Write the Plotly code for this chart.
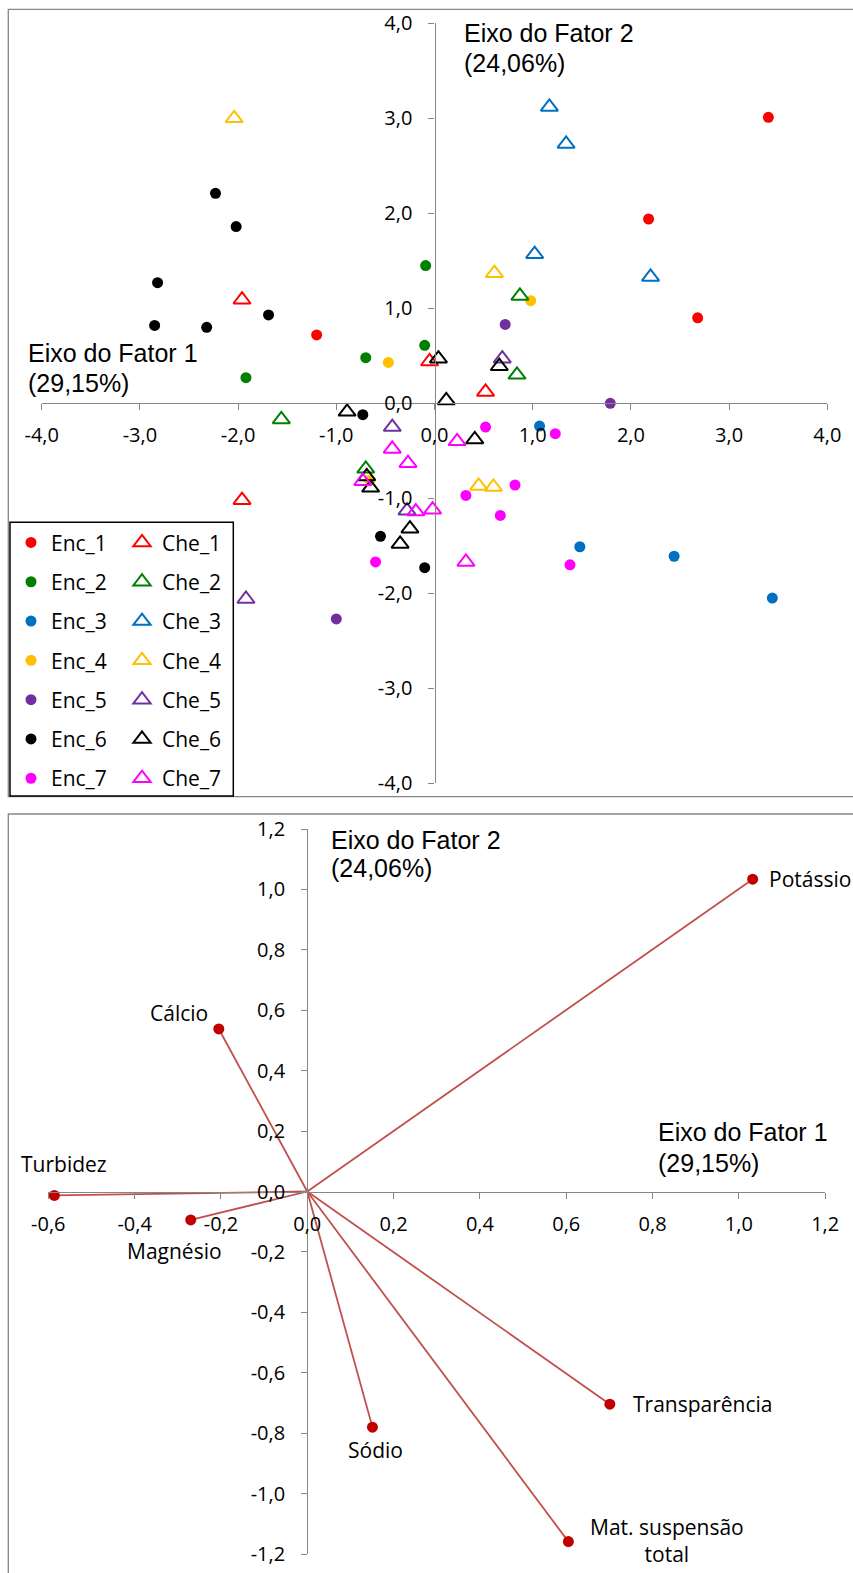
import plotly.graph_objects as go

W, H = 853, 1573

# ---------------- Top chart: factor scores ----------------
series_colors = ["#FF0000", "#008000", "#0070C0", "#FFC000", "#7030A0", "#000000", "#FF00FF"]

enc_1_x = [3.40, 2.18, 2.68, -1.20]
enc_1_y = [3.01, 1.94, 0.90, 0.72]
enc_2_x = [-0.09, -0.10, -0.70, -1.92]
enc_2_y = [1.45, 0.61, 0.48, 0.27]
enc_3_x = [1.07, 1.48, 2.44, 3.44]
enc_3_y = [-0.24, -1.51, -1.61, -2.05]
enc_4_x = [0.98, -0.47, -0.66]
enc_4_y = [1.08, 0.43, -0.81]
enc_5_x = [0.72, 1.79, -1.00]
enc_5_y = [0.83, 0.00, -2.27]
enc_6_x = [-2.23, -2.02, -2.82, -2.85, -2.32, -1.69, -0.73, -0.55, -0.10]
enc_6_y = [2.21, 1.86, 1.27, 0.82, 0.80, 0.93, -0.12, -1.40, -1.73]
enc_7_x = [0.52, 1.23, 0.82, 0.32, 0.67, 1.38, -0.60]
enc_7_y = [-0.25, -0.32, -0.86, -0.97, -1.18, -1.70, -1.67]

che_1_x = [-1.96, -0.05, 0.52, -1.96]
che_1_y = [1.09, 0.44, 0.12, -1.02]
che_2_x = [0.87, 0.84, -1.56, -0.70]
che_2_y = [1.13, 0.30, -0.17, -0.69]
che_3_x = [1.17, 1.34, 1.02, 2.20]
che_3_y = [3.12, 2.73, 1.57, 1.33]
che_4_x = [-2.04, 0.61, 0.45, 0.60]
che_4_y = [3.00, 1.37, -0.87, -0.88]
che_5_x = [0.69, -0.43, -0.28, -1.92]
che_5_y = [0.47, -0.25, -1.13, -2.06]
che_6_x = [-0.89, 0.04, 0.66, 0.12, 0.41, -0.69, -0.65, -0.25, -0.35]
che_6_y = [-0.09, 0.47, 0.39, 0.03, -0.38, -0.77, -0.89, -1.32, -1.48]
che_7_x = [-0.43, -0.27, -0.73, -0.19, -0.02, 0.23, 0.32]
che_7_y = [-0.48, -0.63, -0.82, -1.14, -1.12, -0.40, -1.67]

enc_names = ["Enc_1", "Enc_2", "Enc_3", "Enc_4", "Enc_5", "Enc_6", "Enc_7"]
che_names = ["Che_1", "Che_2", "Che_3", "Che_4", "Che_5", "Che_6", "Che_7"]
enc_xs = [enc_1_x, enc_2_x, enc_3_x, enc_4_x, enc_5_x, enc_6_x, enc_7_x]
enc_ys = [enc_1_y, enc_2_y, enc_3_y, enc_4_y, enc_5_y, enc_6_y, enc_7_y]
che_xs = [che_1_x, che_2_x, che_3_x, che_4_x, che_5_x, che_6_x, che_7_x]
che_ys = [che_1_y, che_2_y, che_3_y, che_4_y, che_5_y, che_6_y, che_7_y]

top_ticks = [-4, -3, -2, -1, 0, 1, 2, 3, 4]
top_ticktext = ["-4,0", "-3,0", "-2,0", "-1,0", "0,0", "1,0", "2,0", "3,0", "4,0"]

# ---------------- Bottom chart: variable loadings ----------------
var_names = ["Potássio", "Cálcio", "Turbidez", "Magnésio", "Sódio", "Transparência", "Mat. suspensão<br>total"]
var_f1 = [1.032, -0.205, -0.586, -0.270, 0.151, 0.701, 0.605]
var_f2 = [1.034, 0.538, -0.013, -0.094, -0.780, -0.704, -1.159]

bx_ticks = [-0.6, -0.4, -0.2, 0.0, 0.2, 0.4, 0.6, 0.8, 1.0, 1.2]
bx_ticktext = ["-0,6", "-0,4", "-0,2", "0,0", "0,2", "0,4", "0,6", "0,8", "1,0", "1,2"]
by_ticks = [-1.2, -1.0, -0.8, -0.6, -0.4, -0.2, 0.0, 0.2, 0.4, 0.6, 0.8, 1.0, 1.2]
by_ticktext = ["-1,2", "-1,0", "-0,8", "-0,6", "-0,4", "-0,2", "0,0", "0,2", "0,4", "0,6", "0,8", "1,0", "1,2"]

# ---------------- layout helpers (pixels -> paper) ----------------
def px(x):
    return x / W


def py(y):
    return 1 - y / H


TX0, TX1, TY0, TY1 = 41.7, 827.3, 23.3, 783.3
BX0, BX1, BY0, BY1 = 48.3, 825.2, 829.0, 1554.0
top_xr, top_yr = [-4, 4], [-4, 4]
bot_xr, bot_yr = [-0.6, 1.2], [-1.2, 1.2]


def cross(dom, rng):
    f = (0 - rng[0]) / (rng[1] - rng[0])
    return dom[0] + f * (dom[1] - dom[0])


top_xdom = [px(TX0), px(TX1)]
top_ydom = [py(TY1), py(TY0)]
bot_xdom = [px(BX0), px(BX1)]
bot_ydom = [py(BY1), py(BY0)]

fig = go.Figure()

for i in range(7):
    fig.add_trace(go.Scatter(
        x=enc_xs[i], y=enc_ys[i], mode="markers", name=enc_names[i],
        marker=dict(symbol="circle", size=11, color=series_colors[i]),
        legend="legend", legendgroup=enc_names[i], xaxis="x", yaxis="y",
    ))
for i in range(7):
    fig.add_trace(go.Scatter(
        x=che_xs[i], y=che_ys[i], mode="markers", name=che_names[i],
        marker=dict(symbol="triangle-up-open", size=15, color=series_colors[i],
                    line=dict(width=2, color=series_colors[i])),
        legend="legend2", legendgroup=che_names[i], xaxis="x", yaxis="y",
    ))

# loading vectors
lx, ly = [], []
for a, b in zip(var_f1, var_f2):
    lx += [0, a, None]
    ly += [0, b, None]
fig.add_trace(go.Scatter(x=lx, y=ly, mode="lines", line=dict(color="#C0504D", width=1.8),
                         showlegend=False, xaxis="x2", yaxis="y2", hoverinfo="skip"))
fig.add_trace(go.Scatter(x=var_f1, y=var_f2, mode="markers", text=var_names,
                         marker=dict(size=11, color="#C00000"),
                         showlegend=False, xaxis="x2", yaxis="y2"))

tickfont = dict(family="Open Sans", size=20, color="#000000")
axis_common = dict(showgrid=False, zeroline=False, showline=True, linecolor="#868686",
                   linewidth=1.3, ticks="outside", ticklen=6, tickcolor="#868686",
                   tickwidth=1.3, tickfont=tickfont, tickmode="array", anchor="free",
                   automargin=False)

fig.update_layout(
    template="none",
    width=W, height=H, margin=dict(l=0, r=0, t=0, b=0, pad=0, autoexpand=False),
    paper_bgcolor="white", plot_bgcolor="white",
    xaxis=dict(domain=top_xdom, range=top_xr, tickvals=top_ticks, ticktext=top_ticktext,
               position=cross(top_ydom, top_yr), ticklabelstandoff=8, **axis_common),
    yaxis=dict(domain=top_ydom, range=top_yr, tickvals=top_ticks, ticktext=top_ticktext,
               position=cross(top_xdom, top_xr), ticklabelstandoff=12, **axis_common),
    xaxis2=dict(domain=bot_xdom, range=bot_xr, tickvals=bx_ticks, ticktext=bx_ticktext,
                position=cross(bot_ydom, bot_yr), ticklabelstandoff=8, **axis_common),
    yaxis2=dict(domain=bot_ydom, range=bot_yr, tickvals=by_ticks, ticktext=by_ticktext,
                position=cross(bot_xdom, bot_xr), ticklabelstandoff=12, **axis_common),
    legend=dict(x=px(11), y=py(522.3), xanchor="left", yanchor="top",
                bgcolor="rgba(0,0,0,0)", borderwidth=0, tracegroupgap=9,
                font=dict(family="Open Sans", size=21, color="#000000")),
    legend2=dict(x=px(122), y=py(522.3), xanchor="left", yanchor="top",
                 bgcolor="rgba(0,0,0,0)", borderwidth=0, tracegroupgap=9,
                 font=dict(family="Open Sans", size=21, color="#000000")),
    showlegend=True,
)

# frames
fig.add_shape(type="rect", xref="paper", yref="paper", x0=px(8.3), x1=px(870), y0=py(796.7), y1=py(9.3),
              line=dict(color="#868686", width=1.3), layer="above")
fig.add_shape(type="rect", xref="paper", yref="paper", x0=px(8.3), x1=px(870), y0=py(1600), y1=py(814),
              line=dict(color="#868686", width=1.3), layer="above")
fig.add_shape(type="rect", xref="paper", yref="paper", x0=px(10), x1=px(233.3), y0=py(796), y1=py(522.3),
              line=dict(color="#000000", width=1.5), layer="above")

# axis title annotations (two lines each)
title_font = dict(family="Liberation Sans", size=25, color="#000000")
titles = [
    ("Eixo do Fator 2", 461.7, 17.3), ("(24,06%)", 461.7, 47.3),
    ("Eixo do Fator 1", 25.7, 337.3), ("(29,15%)", 25.7, 367.3),
    ("Eixo do Fator 2", 329.0, 824.3), ("(24,06%)", 329.0, 852.3),
    ("Eixo do Fator 1", 656.3, 1115.6), ("(29,15%)", 656.3, 1146.6),
]
for t, x, y in titles:
    fig.add_annotation(text=t, xref="paper", yref="paper", x=px(x), y=py(y),
                       xanchor="left", yanchor="top", showarrow=False, font=title_font)

# loading labels
lab_xanchor = ["left", "right", "center", "center", "center", "left", "left"]
lab_yanchor = ["middle", "bottom", "bottom", "top", "top", "middle", "middle"]
lab_xshift = [14, -9, 10, -16, 3, 21, 20]
lab_yshift = [0, 0, 15, -15, -7, 0, 1]
for i in range(len(var_names)):
    fig.add_annotation(text=var_names[i], x=var_f1[i], y=var_f2[i], xref="x2", yref="y2",
                       xanchor=lab_xanchor[i], yanchor=lab_yanchor[i],
                       xshift=lab_xshift[i], yshift=lab_yshift[i], align="center",
                       showarrow=False, font=dict(family="Open Sans", size=21, color="#000000"))

fig.write_html("out.html", config={"displayModeBar": False},
               post_script="document.body.style.margin='0';")
